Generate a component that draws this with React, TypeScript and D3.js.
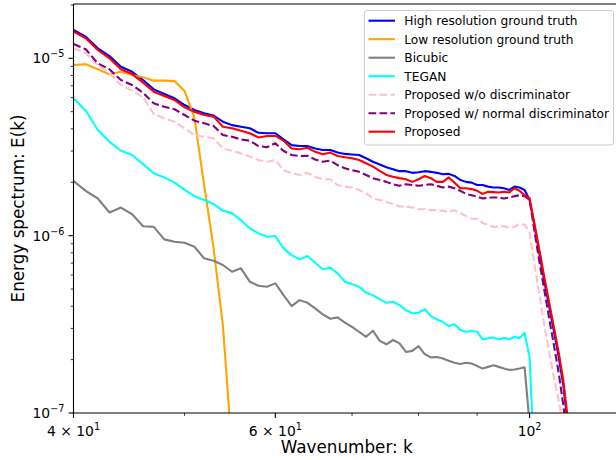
import React from "react";
import * as d3 from "d3";

// wavenumbers k (integer shells)
const wavenumbers = [
  40, 41, 42, 43, 44, 45, 46, 47, 48, 49, 50, 51, 52, 53, 54, 55, 56, 57, 58, 59,
  60, 61, 62, 63, 64, 65, 66, 67, 68, 69, 70, 71, 72, 73, 74, 75, 76, 77, 78, 79,
  80, 81, 82, 83, 84, 85, 86, 87, 88, 89, 90, 91, 92, 93, 94, 95, 96, 97, 98, 99,
  100, 101, 102, 103, 104, 105, 106, 107, 108,
];

const highRes = [
  1.445e-5, 1.324e-5, 1.139e-5, 1.03e-5, 8.97e-6, 8.4e-6, 7.54e-6, 6.68e-6, 6.29e-6, 5.95e-6,
  5.45e-6, 5.11e-6, 4.9e-6, 4.75e-6, 4.39e-6, 4.2e-6, 4.11e-6, 4.03e-6, 3.8e-6, 3.78e-6,
  3.78e-6, 3.49e-6, 3.24e-6, 3.2e-6, 3.2e-6, 3.1e-6, 3.04e-6, 3.04e-6, 2.94e-6, 2.89e-6,
  2.87e-6, 2.85e-6, 2.73e-6, 2.61e-6, 2.52e-6, 2.43e-6, 2.37e-6, 2.31e-6, 2.31e-6, 2.26e-6,
  2.28e-6, 2.31e-6, 2.29e-6, 2.26e-6, 2.22e-6, 2.23e-6, 2.17e-6, 2.06e-6, 2.01e-6, 1.99e-6,
  1.93e-6, 1.93e-6, 1.89e-6, 1.87e-6, 1.87e-6, 1.85e-6, 1.81e-6, 1.89e-6, 1.87e-6, 1.81e-6,
  1.59e-6, 1.13e-6, 7.88e-7, 5.55e-7, 4.01e-7, 2.9e-7, 2.09e-7, 1.44e-7, 8.55e-8,
];

const lowRes = [
  9.17e-6, 9.25e-6, 8.67e-6, 8.12e-6, 8.4e-6, 8.05e-6, 7.82e-6, 7.48e-6, 7.48e-6, 7.44e-6,
  6.54e-6, 4.61e-6, 1.93e-6, 8.51e-7, 3.13e-7, 6.17e-8,
];

const bicubic = [
  2.03e-6, 1.79e-6, 1.62e-6, 1.35e-6, 1.44e-6, 1.32e-6, 1.13e-6, 1.12e-6, 9.53e-7, 9.24e-7,
  9.12e-7, 8.66e-7, 7.45e-7, 7.22e-7, 6.83e-7, 6.26e-7, 6.54e-7, 5.5e-7, 5.22e-7, 5.15e-7,
  5.38e-7, 4.62e-7, 4.01e-7, 4.33e-7, 4.18e-7, 3.89e-7, 3.6e-7, 3.4e-7, 3.46e-7, 3.23e-7,
  3.06e-7, 2.87e-7, 2.69e-7, 2.91e-7, 2.55e-7, 2.44e-7, 2.58e-7, 2.47e-7, 2.21e-7, 2.24e-7,
  2.38e-7, 2.15e-7, 2.06e-7, 2.07e-7, 2.03e-7, 1.97e-7, 1.92e-7, 1.89e-7, 1.92e-7, 1.9e-7,
  1.84e-7, 1.78e-7, 1.82e-7, 1.86e-7, 1.82e-7, 1.78e-7, 1.75e-7, 1.76e-7, 1.78e-7, 1.81e-7,
  8.7e-8,
];

const tegan = [
  5.95e-6, 5.06e-6, 3.94e-6, 3.38e-6, 3.01e-6, 2.85e-6, 2.53e-6, 2.25e-6, 2.13e-6, 1.99e-6,
  1.81e-6, 1.67e-6, 1.59e-6, 1.51e-6, 1.38e-6, 1.34e-6, 1.22e-6, 1.1e-6, 1.03e-6, 9.86e-7,
  9.95e-7, 8.48e-7, 7.77e-7, 7.35e-7, 7.67e-7, 7.03e-7, 6.46e-7, 6.6e-7, 6.13e-7, 5.5e-7,
  5.33e-7, 5.15e-7, 4.76e-7, 4.62e-7, 4.37e-7, 4.18e-7, 4.24e-7, 4.06e-7, 3.8e-7, 3.65e-7,
  3.67e-7, 3.85e-7, 3.52e-7, 3.37e-7, 3.27e-7, 3.09e-7, 3.17e-7, 2.94e-7, 2.87e-7, 2.9e-7,
  2.87e-7, 2.6e-7, 2.64e-7, 2.67e-7, 2.6e-7, 2.66e-7, 2.6e-7, 2.69e-7, 2.64e-7, 2.83e-7,
  2.07e-7, 4.83e-8,
];

const noDisc = [
  1.139e-5, 1.067e-5, 9.17e-6, 8.23e-6, 7.07e-6, 6.57e-6, 6.03e-6, 4.85e-6, 4.59e-6, 4.39e-6,
  4.03e-6, 3.69e-6, 3.61e-6, 3.54e-6, 3.1e-6, 3.01e-6, 2.91e-6, 2.79e-6, 2.67e-6, 2.61e-6,
  2.67e-6, 2.34e-6, 2.25e-6, 2.2e-6, 2.26e-6, 2.15e-6, 2.08e-6, 2.08e-6, 1.93e-6, 1.89e-6,
  1.87e-6, 1.81e-6, 1.73e-6, 1.62e-6, 1.59e-6, 1.55e-6, 1.51e-6, 1.46e-6, 1.46e-6, 1.44e-6,
  1.41e-6, 1.41e-6, 1.39e-6, 1.39e-6, 1.38e-6, 1.36e-6, 1.39e-6, 1.34e-6, 1.29e-6, 1.25e-6,
  1.24e-6, 1.18e-6, 1.15e-6, 1.12e-6, 1.13e-6, 1.13e-6, 1.11e-6, 1.12e-6, 1.17e-6, 1.15e-6,
  1.05e-6, 6.83e-7, 4.62e-7, 3.13e-7, 2.21e-7, 1.59e-7, 1.18e-7, 8.55e-8, 5.42e-8,
];

const normalDisc = [
  1.204e-5, 1.124e-5, 9.37e-6, 8.67e-6, 7.54e-6, 7.07e-6, 6.4e-6, 5.57e-6, 5.33e-6, 5.16e-6,
  4.79e-6, 4.45e-6, 4.3e-6, 4.15e-6, 3.69e-6, 3.61e-6, 3.49e-6, 3.43e-6, 3.2e-6, 3.15e-6,
  3.32e-6, 3.0e-6, 2.85e-6, 2.81e-6, 2.82e-6, 2.69e-6, 2.61e-6, 2.65e-6, 2.5e-6, 2.4e-6,
  2.34e-6, 2.29e-6, 2.2e-6, 2.11e-6, 2.06e-6, 2.01e-6, 1.95e-6, 1.91e-6, 1.95e-6, 1.93e-6,
  1.91e-6, 1.93e-6, 1.95e-6, 1.91e-6, 1.87e-6, 1.89e-6, 1.85e-6, 1.79e-6, 1.72e-6, 1.69e-6,
  1.66e-6, 1.62e-6, 1.64e-6, 1.64e-6, 1.64e-6, 1.62e-6, 1.64e-6, 1.67e-6, 1.69e-6, 1.67e-6,
  1.59e-6, 1.05e-6, 7.1e-7, 4.93e-7, 3.43e-7, 2.42e-7, 1.7e-7, 1.11e-7, 7.03e-8,
];

const proposed = [
  1.413e-5, 1.297e-5, 1.114e-5, 1.0e-5, 8.67e-6, 8.15e-6, 7.29e-6, 6.48e-6, 6.13e-6, 5.82e-6,
  5.29e-6, 5.0e-6, 4.79e-6, 4.69e-6, 4.11e-6, 4.03e-6, 3.9e-6, 3.78e-6, 3.58e-6, 3.65e-6,
  3.65e-6, 3.43e-6, 3.1e-6, 3.07e-6, 3.13e-6, 2.97e-6, 2.88e-6, 2.94e-6, 2.81e-6, 2.77e-6,
  2.73e-6, 2.67e-6, 2.56e-6, 2.45e-6, 2.32e-6, 2.2e-6, 2.15e-6, 2.11e-6, 2.08e-6, 2.01e-6,
  2.08e-6, 2.17e-6, 2.11e-6, 2.01e-6, 2.01e-6, 2.13e-6, 1.99e-6, 1.85e-6, 1.85e-6, 1.83e-6,
  1.79e-6, 1.72e-6, 1.77e-6, 1.76e-6, 1.75e-6, 1.77e-6, 1.75e-6, 1.85e-6, 1.79e-6, 1.69e-6,
  1.62e-6, 1.16e-6, 8.29e-7, 5.84e-7, 4.22e-7, 3.05e-7, 2.21e-7, 1.53e-7, 9.12e-8,
];

const series = [
  { name: "High resolution ground truth", values: highRes, color: "#0000ff", dash: null },
  { name: "Low resolution ground truth", values: lowRes, color: "#ffa500", dash: null },
  { name: "Bicubic", values: bicubic, color: "#808080", dash: null },
  { name: "TEGAN", values: tegan, color: "#00ffff", dash: null },
  { name: "Proposed w/o discriminator", values: noDisc, color: "#ffc0cb", dash: "7.7,3.3" },
  { name: "Proposed w/ normal discriminator", values: normalDisc, color: "#800080", dash: "7.7,3.3" },
  { name: "Proposed", values: proposed, color: "#ff0000", dash: null },
];

const xMajorTicks = [
  { k: 40, base: "4 \u00d7 10", exp: "1" },
  { k: 60, base: "6 \u00d7 10", exp: "1" },
  { k: 100, base: "10", exp: "2" },
];
const xMinorTicks = [50, 70, 80, 90];
const yMajorTicks = [
  { v: 1e-7, exp: "\u22127" },
  { v: 1e-6, exp: "\u22126" },
  { v: 1e-5, exp: "\u22125" },
];

export default function App() {
  const W = 616;
  const H = 460;
  const left = 73.5;
  const right = 620;
  const top = 4;
  const bottom = 413;

  const x = d3.scaleLog().domain([40, 100]).range([left, 529.6]);
  const y = d3.scaleLog().domain([1e-7, 1e-5]).range([bottom, 58.3]);
  const yTop = y.invert(top);

  const yMinor: number[] = [];
  [1e-7, 1e-6, 1e-5].forEach(d => {
    for (let m = 2; m <= 9; m++) {
      const v = d * m;
      if (v < yTop) yMinor.push(v);
    }
  });

  const line = d3
    .line<[number, number]>()
    .x(d => x(d[0]))
    .y(d => y(d[1]));

  const font = "DejaVu Sans, sans-serif";

  return (
    <svg
      width={W}
      height={H}
      style={{ position: "absolute", left: 0, top: 0, background: "#fff" }}
      fontFamily={font}
    >
      <defs>
        <clipPath id="plotclip">
          <rect x={left} y={top} width={right - left} height={bottom - top} />
        </clipPath>
      </defs>
      <rect width={W} height={H} fill="#fff" />

      <g clipPath="url(#plotclip)">
        {series.map(s => (
          <path
            key={s.name}
            d={line(s.values.map((v, i) => [wavenumbers[i], v] as [number, number])) || ""}
            fill="none"
            stroke={s.color}
            strokeWidth={2.1}
            strokeDasharray={s.dash || undefined}
            strokeLinejoin="round"
            strokeLinecap={s.dash ? "butt" : "square"}
          />
        ))}
      </g>

      {/* spines */}
      <g stroke="#000" strokeWidth={1.1} fill="none">
        <line x1={left} x2={left} y1={top} y2={bottom} />
        <line x1={left} x2={right} y1={bottom} y2={bottom} />
        <line x1={left} x2={right} y1={top} y2={top} />
      </g>

      {/* x ticks */}
      <g stroke="#000">
        {xMajorTicks.map(t => (
          <line key={t.k} x1={x(t.k)} x2={x(t.k)} y1={bottom} y2={bottom + 4.9} strokeWidth={1.1} />
        ))}
        {xMinorTicks.map(t => (
          <line key={t} x1={x(t)} x2={x(t)} y1={bottom} y2={bottom + 2.8} strokeWidth={0.8} />
        ))}
      </g>
      {xMajorTicks.map(t => (
        <text key={t.k} x={x(t.k)} y={436} textAnchor="middle" fontSize={13.9} fill="#000">
          {t.base}
          <tspan fontSize={9.7} dy={-6}>
            {t.exp}
          </tspan>
        </text>
      ))}

      {/* y ticks */}
      <g stroke="#000">
        {yMajorTicks.map(t => (
          <line key={t.exp} x1={left - 4.9} x2={left} y1={y(t.v)} y2={y(t.v)} strokeWidth={1.1} />
        ))}
        {yMinor.map(v => (
          <line key={v} x1={left - 2.8} x2={left} y1={y(v)} y2={y(v)} strokeWidth={0.8} />
        ))}
      </g>
      {yMajorTicks.map(t => (
        <text key={t.exp} x={64.5} y={y(t.v) + 5} textAnchor="end" fontSize={13.9} fill="#000">
          10
          <tspan fontSize={9.7} dy={-6}>
            {t.exp}
          </tspan>
        </text>
      ))}

      {/* axis labels */}
      <text x={(left + right) / 2} y={452.5} textAnchor="middle" fontSize={16.8} fill="#000">
        Wavenumber: k
      </text>
      <text
        transform={`translate(23.5, ${(top + bottom) / 2}) rotate(-90)`}
        textAnchor="middle"
        fontSize={16.8}
        fill="#000"
      >
        Energy spectrum: E(k)
      </text>

      {/* legend */}
      <g>
        <rect
          x={364.5}
          y={10.5}
          width={249}
          height={134.5}
          rx={2.5}
          fill="#fff"
          fillOpacity={0.8}
          stroke="#cccccc"
          strokeWidth={1}
        />
        {series.map((s, i) => {
          const cy = 20.7 + i * 18.5;
          return (
            <g key={s.name}>
              <line
                x1={368.5}
                x2={395}
                y1={cy}
                y2={cy}
                stroke={s.color}
                strokeWidth={2.1}
                strokeDasharray={s.dash || undefined}
              />
              <text x={404.3} y={cy + 4.4} fontSize={12.2} fill="#000">
                {s.name}
              </text>
            </g>
          );
        })}
      </g>
    </svg>
  );
}
